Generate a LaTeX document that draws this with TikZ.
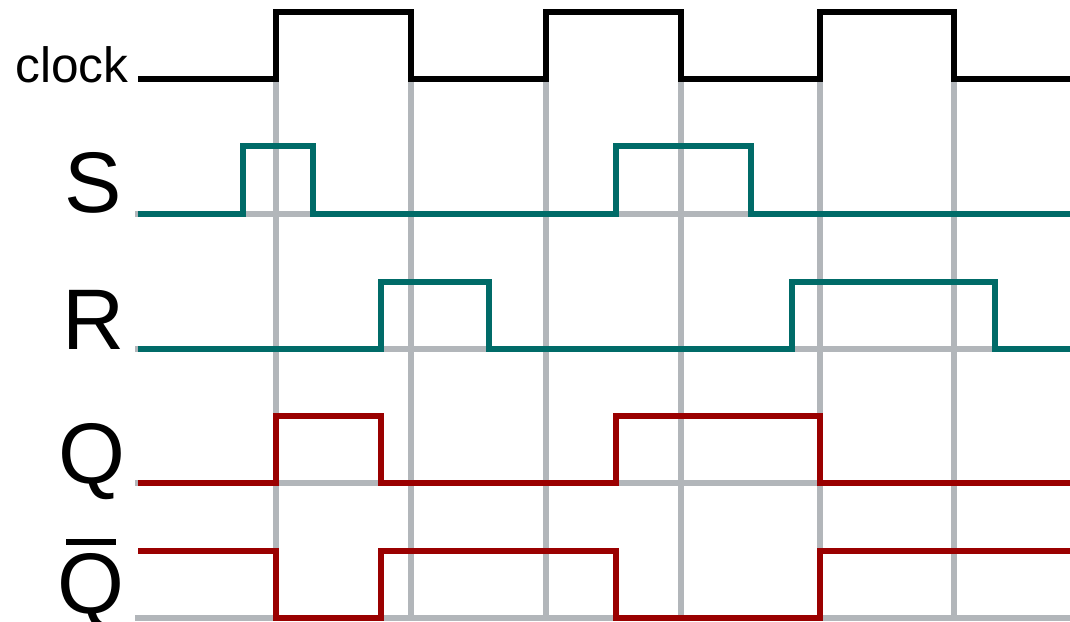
\documentclass[tikz,border=0pt]{standalone}
\usepackage{fontspec}
\setmainfont{Liberation Sans}
\usepackage{xcolor}
\definecolor{clockBlack}{HTML}{000000}
\definecolor{inputTeal}{HTML}{006B68}
\definecolor{outputRed}{HTML}{9A0000}
\definecolor{guideGray}{HTML}{B2B6BA}
\usepackage{tikz}

% Q with a bar over it
\newsavebox\qbarbox
\newcommand{\qbar}{\sbox\qbarbox{Q}\vbox{\offinterlineskip
    \hbox to \wd\qbarbox{\hss\vrule width 25pt height 3pt depth 0pt\hss}
    \kern 4pt
    \copy\qbarbox}}

\tikzset{
    % Signal names on the left
    signal label/.style={
        font=\fontsize{43}{43}\selectfont,
        anchor=base east,
        inner sep=0pt,
        text=black,
    },
    clock label/.style={
        signal label,
        font=\fontsize{24.8}{25}\selectfont,
    },
    % Base style for the waveforms
    wave/.style={
        line width=3pt,
        line join=miter,
    },
    clock wave/.style={wave, draw=clockBlack},
    input wave/.style={wave, draw=inputTeal},
    output wave/.style={wave, draw=outputRed},
    % Grey guide lines behind the waves
    guide/.style={
        line width=3pt,
        draw=guideGray,
    },
}

\begin{document}
\begin{tikzpicture}[x=0.5pt, y=-0.5pt]
    \useasboundingbox (0,0) rectangle (1070,621);

    % guides at the clock edges and the low levels
    \foreach \t in {276,411,546,681,820,954}
        \draw[guide] (\t,82) -- (\t,621);
    \foreach \y in {214,349,483,618}
        \draw[guide] (135,\y) -- (1070,\y);

    % names
    \node[clock label] (clk) at (129,82) {clock};
    \node[signal label] (set) at (122,212) {S};
    \node[signal label] (reset) at (125,349) {R};
    \node[signal label] (q) at (126,483) {Q};
    \node[signal label] (qn) at (125,613) {\qbar};

    % waveforms
    \draw[clock wave] (138,79) -| (276,12) -| (411,79) -| (546,12) -| (681,79) -| (820,12) -| (954,79) -- (1070,79);
    \draw[input wave] (138,214) -| (243,146) -| (313,214) -| (616,146) -| (751,214) -- (1070,214);
    \draw[input wave] (138,349) -| (381,282) -| (489,349) -| (792,282) -| (995,349) -- (1070,349);
    \draw[output wave] (138,483) -| (276,416) -| (381,483) -| (616,416) -| (820,483) -- (1070,483);
    \draw[output wave] (138,551) -| (276,618) -| (381,551) -| (616,618) -| (820,551) -- (1070,551);
\end{tikzpicture}
\end{document}
